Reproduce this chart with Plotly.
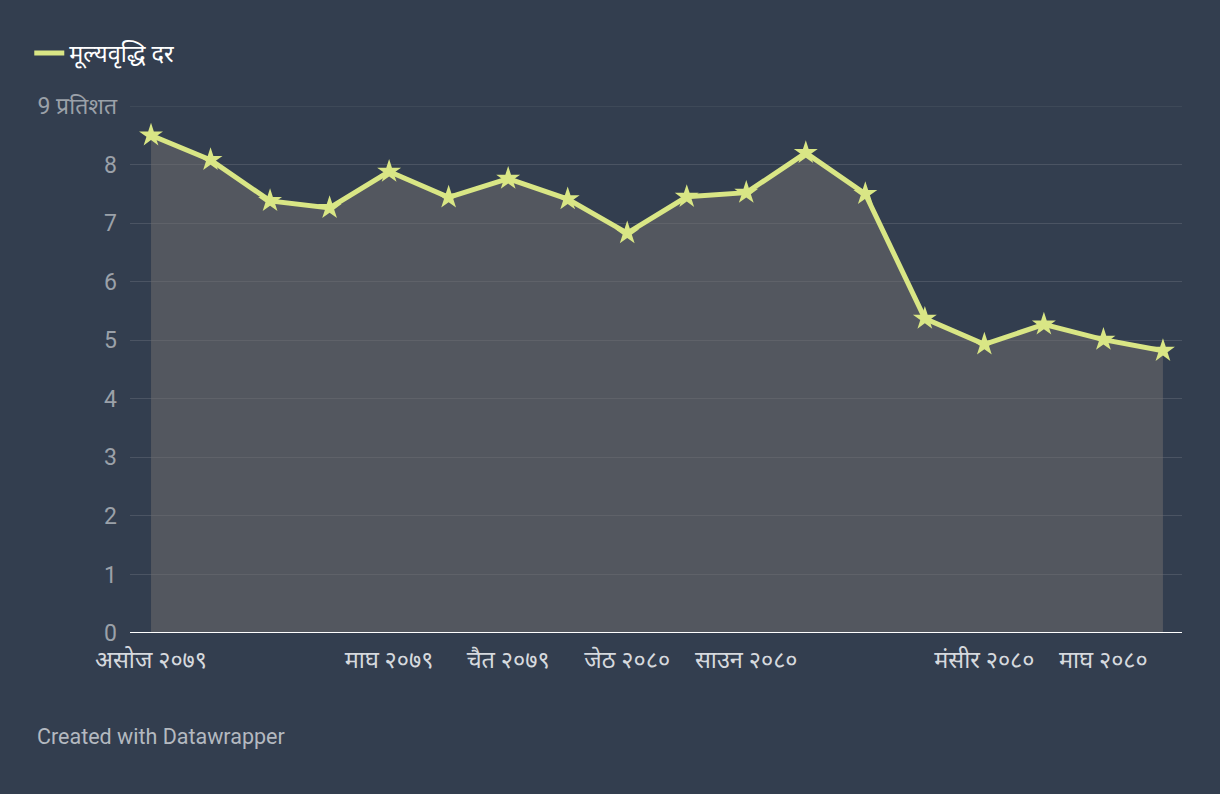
import plotly.graph_objects as go

months = ["असोज २०७९", "कात्तिक २०७९", "मंसीर २०७९", "पुस २०७९", "माघ २०७९", "फागुन २०७९",
          "चैत २०७९", "वैशाख २०८०", "जेठ २०८०", "असार २०८०", "साउन २०८०", "भदौ २०८०",
          "असोज २०८०", "कात्तिक २०८०", "मंसीर २०८०", "पुस २०८०", "माघ २०८०", "फागुन २०८०"]
inflation = [8.50, 8.08, 7.38, 7.26, 7.88, 7.44, 7.76, 7.41, 6.83, 7.45, 7.52, 8.20,
             7.50, 5.37, 4.93, 5.27, 5.01, 4.82]
series_name = "मूल्यवृद्धि दर"
x_tick_idx = [0, 4, 6, 8, 10, 14, 16]
y_tickvals = [0, 1, 2, 3, 4, 5, 6, 7, 8, 9]
y_ticktext = ["0", "1", "2", "3", "4", "5", "6", "7", "8", "9 प्रतिशत"]
credit = "Created with Datawrapper"

BG = "#333e4f"
LINE = "#d9e685"
GRID = "#4b5463"
FONT = "Roboto, 'Noto Sans', sans-serif"

xs = list(range(len(months)))

fig = go.Figure()
fig.add_trace(go.Scatter(
    x=xs, y=inflation, mode="lines+markers",
    line=dict(color=LINE, width=5),
    marker=dict(symbol="star", size=18, color=LINE, line=dict(width=0)),
    fill="tozeroy", fillcolor="rgba(115,112,111,0.5)",
    showlegend=False, hoverinfo="skip"))
fig.add_trace(go.Scatter(
    x=[None], y=[None], mode="lines", name=series_name,
    line=dict(color=LINE, width=5), showlegend=True))

# top gridline (at the range edge) and white baseline
fig.add_shape(type="line", xref="paper", yref="y", x0=0, x1=1, y0=y_tickvals[-1], y1=y_tickvals[-1],
              line=dict(color=GRID, width=1), layer="below")
fig.add_shape(type="line", xref="paper", yref="y", x0=0, x1=1, y0=0, y1=0,
              line=dict(color="#ffffff", width=2), layer="above")

fig.add_annotation(text=credit, xref="paper", yref="paper", x=-0.0903, y=-0.197,
                   xanchor="left", yanchor="middle", showarrow=False,
                   font=dict(family=FONT, size=21.5, color="#b4b9c0"))

fig.update_layout(
    width=1220, height=794,
    paper_bgcolor=BG, plot_bgcolor=BG,
    margin=dict(l=130, r=38, t=106, b=161),
    font=dict(family=FONT, color="#d6d9de"),
    legend=dict(orientation="h", xref="container", yref="container",
                x=0.024, y=0.933, xanchor="left", yanchor="middle",
                font=dict(family=FONT, size=23.5, color="#ffffff"),
                bgcolor="rgba(0,0,0,0)"),
    xaxis=dict(range=[-0.353, 17.32], tickvals=[xs[i] for i in x_tick_idx],
               ticktext=[months[i] for i in x_tick_idx],
               showgrid=False, zeroline=False, showline=False, ticks="",
               tickfont=dict(family=FONT, size=23.5, color="#d6d9de"),
               ticklabelstandoff=10, fixedrange=True),
    yaxis=dict(range=[0, 9], tickvals=y_tickvals, ticktext=y_ticktext,
               showgrid=True, gridcolor=GRID, gridwidth=1,
               zeroline=False, showline=False, ticks="",
               tickfont=dict(family=FONT, size=23, color="#9ba1a9"),
               ticklabelstandoff=12, fixedrange=True),
)

fig.write_html("out.html", config={"displayModeBar": False},
               post_script="document.body.style.margin='0';document.body.style.background='#333e4f';")
